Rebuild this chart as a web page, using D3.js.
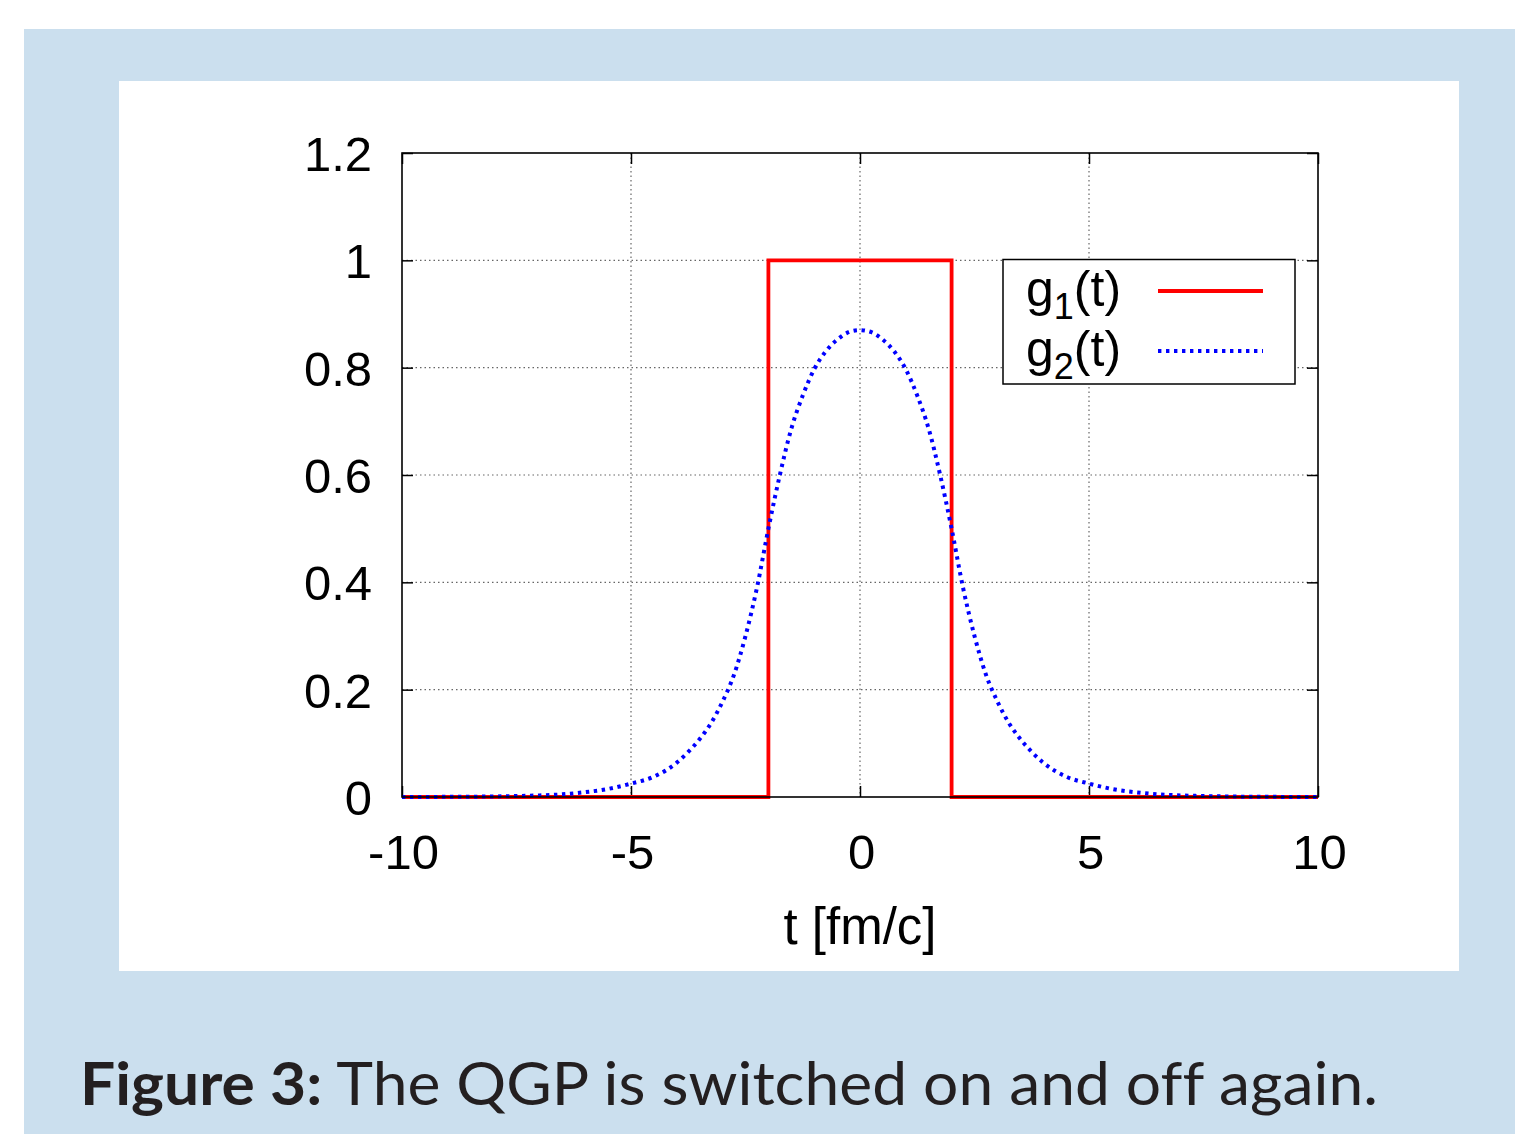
<!DOCTYPE html>
<html>
<head>
<meta charset="utf-8">
<script src="https://cdn.jsdelivr.net/npm/d3@7"></script>
<style>
  html, body { margin: 0; padding: 0; background: #fff; }
  svg { display: block; }
  .caption { font-variant-ligatures: none; }
</style>
</head>
<body>
<svg id="chart"></svg>
<script>
// g1(t): step function, on between -2 and 2
const g1T = [-10, -2, -2, 2, 2, 10];
const g1V = [0, 0, 1, 1, 0, 0];

// g2(t): smooth bump
const g2T = [-10, -9, -8, -7, -6.5, -6, -5.5, -5, -4.5, -4, -3.75, -3.5, -3.25, -3, -2.75, -2.5, -2.25, -2, -1.75, -1.5, -1.25, -1, -0.75, -0.5, -0.25, 0,
  0.25, 0.5, 0.75, 1, 1.25, 1.5, 1.75, 2, 2.25, 2.5, 2.75, 3, 3.25, 3.5, 3.75, 4, 4.5, 5, 5.5, 6, 6.5, 7, 8, 9, 10];
const g2V = [0, 0.0003, 0.001, 0.003, 0.005, 0.009, 0.015, 0.025, 0.038, 0.064, 0.084, 0.108, 0.138, 0.178, 0.228, 0.3, 0.39, 0.5, 0.6, 0.686, 0.748, 0.797, 0.83, 0.852, 0.866, 0.87,
  0.866, 0.852, 0.83, 0.797, 0.748, 0.686, 0.6, 0.5, 0.39, 0.3, 0.228, 0.178, 0.138, 0.108, 0.084, 0.064, 0.038, 0.025, 0.015, 0.009, 0.005, 0.003, 0.001, 0.0003, 0];

const xTicks = [-10, -5, 0, 5, 10];
const yTicks = [0, 0.2, 0.4, 0.6, 0.8, 1, 1.2];
const seriesNames = ['1', '2'];
const seriesColors = ['#ff0000', '#0000ff'];

const w = 1515;
const h = 1134;
const pL = 402, pR = 1318, pT = 153, pB = 797;

const svg = d3.select('#chart')
  .attr('width', w)
  .attr('height', h);

// blue frame and white card
svg.append('rect').attr('x', 24).attr('y', 29).attr('width', w - 24).attr('height', h - 29).attr('fill', '#cbdfee');
svg.append('rect').attr('x', 119).attr('y', 81).attr('width', 1340).attr('height', 890).attr('fill', '#fff');

const x = d3.scaleLinear().domain([-10, 10]).range([pL, pR]);
const y = d3.scaleLinear().domain([0, 1.2]).range([pB, pT]);

const font = '"Liberation Sans", Arial, sans-serif';

// grid
const grid = svg.append('g')
  .attr('stroke', '#666')
  .attr('stroke-width', 1.2)
  .attr('stroke-dasharray', '1.5,3');
grid.selectAll('.gy')
  .data(yTicks.filter(d => d > 0 && d < 1.2))
  .enter()
  .append('line')
  .attr('x1', pL).attr('x2', pR)
  .attr('y1', d => y(d)).attr('y2', d => y(d));
grid.selectAll('.gx')
  .data(xTicks.filter(d => d > -10 && d < 10))
  .enter()
  .append('line')
  .attr('y1', pT).attr('y2', pB)
  .attr('x1', d => x(d)).attr('x2', d => x(d));

// axes (ticks inward, mirrored)
const tickLen = 11;
const axB = svg.append('g').attr('transform', `translate(0, ${pB})`)
  .call(d3.axisBottom(x).tickValues(xTicks).tickSizeInner(-tickLen).tickSizeOuter(0).tickPadding(tickLen + 26).tickFormat(d => String(d)));
const axT = svg.append('g').attr('transform', `translate(0, ${pT})`)
  .call(d3.axisTop(x).tickValues(xTicks).tickSizeInner(-tickLen).tickSizeOuter(0).tickFormat(''));
const axL = svg.append('g').attr('transform', `translate(${pL}, 0)`)
  .call(d3.axisLeft(y).tickValues(yTicks).tickSizeInner(-tickLen).tickSizeOuter(0).tickPadding(tickLen + 19).tickFormat(d => String(d)));
const axR = svg.append('g').attr('transform', `translate(${pR}, 0)`)
  .call(d3.axisRight(y).tickValues(yTicks).tickSizeInner(-tickLen).tickSizeOuter(0).tickFormat(''));

[axB, axT, axL, axR].forEach(a => {
  a.select('.domain').remove();
  a.selectAll('.tick line').attr('stroke', '#000').attr('stroke-width', 1.5);
  a.selectAll('text').attr('font-family', font).attr('font-size', 49).attr('fill', '#000');
});
axB.selectAll('text').attr('dy', '0.71em').attr('dx', 1);
axL.selectAll('text').attr('dy', '0.36em');

// legend box (white fill hides grid)
const lg = svg.append('g');
lg.append('rect')
  .attr('x', 1003).attr('y', 259.5).attr('width', 292).attr('height', 124.5)
  .attr('fill', '#fff').attr('stroke', '#000').attr('stroke-width', 1.5);

// series
const line = d3.line().x(d => x(d[0])).y(d => y(d[1]));
const g1 = g1T.map((t, i) => [t, g1V[i]]);
const g2 = g2T.map((t, i) => [t, g2V[i]]);

svg.append('path')
  .datum(g1)
  .attr('d', line)
  .attr('fill', 'none')
  .attr('stroke', seriesColors[0])
  .attr('stroke-width', 3.8);

svg.append('path')
  .datum(g2)
  .attr('d', line.curve(d3.curveMonotoneX))
  .attr('fill', 'none')
  .attr('stroke', seriesColors[1])
  .attr('stroke-width', 4)
  .attr('stroke-dasharray', '3.4,4.6');

// border
svg.append('rect')
  .attr('x', pL).attr('y', pT).attr('width', pR - pL).attr('height', pB - pT)
  .attr('fill', 'none').attr('stroke', '#000').attr('stroke-width', 1.6);

// legend entries
const rowY = [306, 366];
seriesNames.forEach((s, i) => {
  const t = lg.append('text')
    .attr('x', 1026).attr('y', rowY[i])
    .attr('font-family', font).attr('font-size', 50).attr('fill', '#000');
  t.append('tspan').text('g');
  t.append('tspan').attr('font-size', 36).attr('dy', 13).text(s);
  t.append('tspan').attr('dy', -13).text('(t)');
  lg.append('line')
    .attr('x1', 1158).attr('x2', 1263)
    .attr('y1', rowY[i] - 15).attr('y2', rowY[i] - 15)
    .attr('stroke', seriesColors[i])
    .attr('stroke-width', i === 0 ? 3.8 : 4)
    .attr('stroke-dasharray', i === 0 ? null : '3.4,4.6');
});

// x axis title
svg.append('text')
  .attr('x', 860).attr('y', 944)
  .attr('text-anchor', 'middle')
  .attr('font-family', font).attr('font-size', 51)
  .text('t [fm/c]');

// caption
const cap = svg.append('text')
  .attr('class', 'caption')
  .attr('x', 80).attr('y', 1105)
  .attr('font-family', 'Lato, "Open Sans", sans-serif')
  .attr('font-size', 60)
  .attr('fill', '#231f20');
cap.append('tspan').attr('font-weight', 'bold').text('Figure 3:');
cap.append('tspan').text(' The QGP is switched on and off again.');
cap.attr('textLength', 1298).attr('lengthAdjust', 'spacingAndGlyphs');
</script>
</body>
</html>
